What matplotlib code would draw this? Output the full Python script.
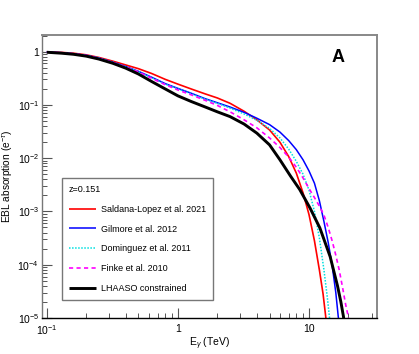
import numpy as np
import matplotlib
matplotlib.use("Agg")
import matplotlib.pyplot as plt
from matplotlib.ticker import FixedLocator, LogLocator, NullFormatter, FixedFormatter

plt.rcParams['font.family'] = ['Liberation Sans', 'DejaVu Sans']
plt.rcParams['mathtext.fontset'] = 'custom'
plt.rcParams['mathtext.rm'] = 'Liberation Sans'
plt.rcParams['mathtext.it'] = 'Liberation Sans:italic'
plt.rcParams['mathtext.bf'] = 'Liberation Sans:bold'

# ---- data: energy (TeV) and log10 of EBL absorption factor ----
red_E = [0.1, 0.13, 0.16, 0.2, 0.25, 0.32, 0.4, 0.5, 0.63, 0.8, 1.0, 1.26, 1.6, 2.0, 2.5, 3.2,
         4.0, 5.0, 6.0, 7.0, 8.0, 9.0, 10.0, 11.0, 12.0, 12.8, 13.4, 13.6]
red_logA = [-0.005, -0.015, -0.03, -0.06, -0.11, -0.18, -0.25, -0.32, -0.41, -0.52, -0.61, -0.70,
            -0.79, -0.87, -0.97, -1.12, -1.28, -1.47, -1.70, -1.97, -2.28, -2.65, -3.06, -3.55,
            -4.10, -4.55, -4.97, -5.1]

blue_E = [0.1, 0.13, 0.16, 0.2, 0.25, 0.32, 0.4, 0.5, 0.63, 0.8, 1.0, 1.26, 1.6, 2.0, 2.5, 3.2,
          4.0, 5.0, 6.0, 7.0, 8.0, 9.0, 10.0, 11.0, 12.0, 13.0, 14.0, 15.0, 16.0, 16.7, 17.0]
blue_logA = [-0.01, -0.02, -0.04, -0.07, -0.12, -0.20, -0.28, -0.37, -0.48, -0.60, -0.69, -0.78,
             -0.88, -0.96, -1.04, -1.14, -1.25, -1.37, -1.51, -1.67, -1.84, -2.03, -2.24, -2.47,
             -2.80, -3.19, -3.58, -4.01, -4.52, -4.97, -5.1]

cyan_E = [0.1, 0.13, 0.16, 0.2, 0.25, 0.32, 0.4, 0.5, 0.63, 0.8, 1.0, 1.26, 1.6, 2.0, 2.5, 3.2,
          4.0, 5.0, 6.0, 7.0, 8.0, 9.0, 10.0, 11.0, 12.0, 13.0, 13.8, 14.3, 14.5]
cyan_logA = [-0.01, -0.02, -0.04, -0.07, -0.12, -0.20, -0.285, -0.375, -0.49, -0.61, -0.70, -0.79,
             -0.89, -0.97, -1.06, -1.17, -1.29, -1.44, -1.62, -1.83, -2.06, -2.30, -2.60, -3.00,
             -3.50, -4.10, -4.62, -4.97, -5.1]

mag_E = [0.1, 0.13, 0.16, 0.2, 0.25, 0.32, 0.4, 0.5, 0.63, 0.8, 1.0, 1.26, 1.6, 2.0, 2.5, 3.2,
         4.0, 5.0, 6.0, 7.0, 8.0, 9.0, 10.0, 11.0, 12.0, 13.0, 14.0, 15.0, 16.0, 17.0, 18.0,
         19.0, 19.9, 20.3]
mag_logA = [-0.01, -0.02, -0.04, -0.07, -0.125, -0.205, -0.29, -0.38, -0.50, -0.62, -0.72, -0.81,
            -0.91, -1.01, -1.13, -1.28, -1.43, -1.62, -1.80, -1.98, -2.17, -2.37, -2.57, -2.74,
            -2.90, -3.07, -3.30, -3.55, -3.82, -4.10, -4.42, -4.74, -4.97, -5.1]

blk_E = [0.1, 0.13, 0.16, 0.2, 0.25, 0.32, 0.4, 0.5, 0.63, 0.8, 1.0, 1.26, 1.6, 2.0, 2.5, 3.2,
         4.0, 5.0, 6.0, 7.2, 8.5, 10.2, 12.1, 14.5, 16.5, 17.5, 18.3, 18.6]
blk_logA = [-0.012, -0.03, -0.05, -0.085, -0.14, -0.22, -0.31, -0.42, -0.56, -0.70, -0.83, -0.935,
            -1.035, -1.13, -1.22, -1.36, -1.53, -1.75, -2.03, -2.33, -2.59, -2.94, -3.31, -3.85,
            -4.40, -4.70, -4.97, -5.1]

labels = ["Saldana-Lopez et al. 2021", "Gilmore et al. 2012", "Dominguez et al. 2011",
          "Finke et al. 2010", "LHAASO constrained"]
legend_title = "z=0.151"

x_ticks = [0.1, 1, 10]
x_ticklabels = [r"$10^{-1}$", "1", "10"]
y_ticks = [1e-5, 1e-4, 1e-3, 1e-2, 1e-1, 1]
y_ticklabels = [r"$10^{-5}$", r"$10^{-4}$", r"$10^{-3}$", r"$10^{-2}$", r"$10^{-1}$", "1"]

fig = plt.figure(figsize=(4.19, 3.54), dpi=100)
ax = fig.add_axes([0.1002, 0.1017, 0.7996, 0.7994])

series = [
    (red_E, red_logA, dict(color='#ff0000', lw=1.2, ls='-')),
    (blue_E, blue_logA, dict(color='#0000ff', lw=1.1, ls='-')),
    (cyan_E, cyan_logA, dict(color='#00e0e0', lw=1.1, ls=(0, (1, 1)))),
    (mag_E, mag_logA, dict(color='#ff00ff', lw=1.2, ls=(0, (2.5, 2)))),
    (blk_E, blk_logA, dict(color='black', lw=2.1, ls='-')),
]
handles = []
for (E, la, st), lab in zip(series, labels):
    h, = ax.plot(E, 10 ** np.array(la), label=lab, solid_capstyle='butt',
                 solid_joinstyle='round', **st)
    handles.append(h)

ax.set_xscale('log')
ax.set_yscale('log')
ax.set_xlim(0.092, 33)
ax.set_ylim(1e-5, 2.05)

ax.xaxis.set_major_locator(FixedLocator(x_ticks))
ax.xaxis.set_major_formatter(FixedFormatter(x_ticklabels))
ax.xaxis.set_minor_locator(LogLocator(base=10, subs=np.arange(2, 10)))
ax.xaxis.set_minor_formatter(NullFormatter())
ax.yaxis.set_major_locator(FixedLocator(y_ticks))
ax.yaxis.set_major_formatter(FixedFormatter(y_ticklabels))
ax.yaxis.set_minor_locator(LogLocator(base=10, subs=np.arange(2, 10)))
ax.yaxis.set_minor_formatter(NullFormatter())

ax.tick_params(axis='both', which='major', direction='in', length=7, width=0.8,
               labelsize=7.5, color='#555555', top=False, right=False)
ax.tick_params(axis='both', which='minor', direction='in', length=3.5, width=0.7,
               color='#555555', top=False, right=False)
ax.tick_params(axis='x', which='major', pad=4)
ax.tick_params(axis='y', which='major', pad=2)

for s in ['top', 'right']:
    ax.spines[s].set_color('#888888')
    ax.spines[s].set_linewidth(1.4)
ax.spines['left'].set_color('#777777')
ax.spines['left'].set_linewidth(1.0)
ax.spines['bottom'].set_color('black')
ax.spines['bottom'].set_linewidth(1.0)

ax.set_xlabel(r"E$_{\gamma}$ (TeV)", fontsize=7.5)
ax.xaxis.set_label_coords(0.5, -0.062)
ax.set_ylabel(r"EBL absorption (e$^{-\tau}$)", fontsize=7.3)
ax.yaxis.set_label_coords(-0.080, 0.5)

ax.text(0.885, 0.92, "A", transform=ax.transAxes, fontsize=13, fontweight='bold',
        ha='center', va='center')

leg = ax.legend(handles=handles, labels=labels, title=legend_title, loc='lower left',
                bbox_to_anchor=(0.06, 0.064), fontsize=6.5, title_fontsize=6.5,
                alignment='left', frameon=True, fancybox=False, framealpha=1,
                edgecolor='#777777', handlelength=3.0, handletextpad=0.55,
                labelspacing=1.2, borderpad=0.75, borderaxespad=0)
leg.get_frame().set_linewidth(1.0)

fig.savefig("out.png", dpi=100)
